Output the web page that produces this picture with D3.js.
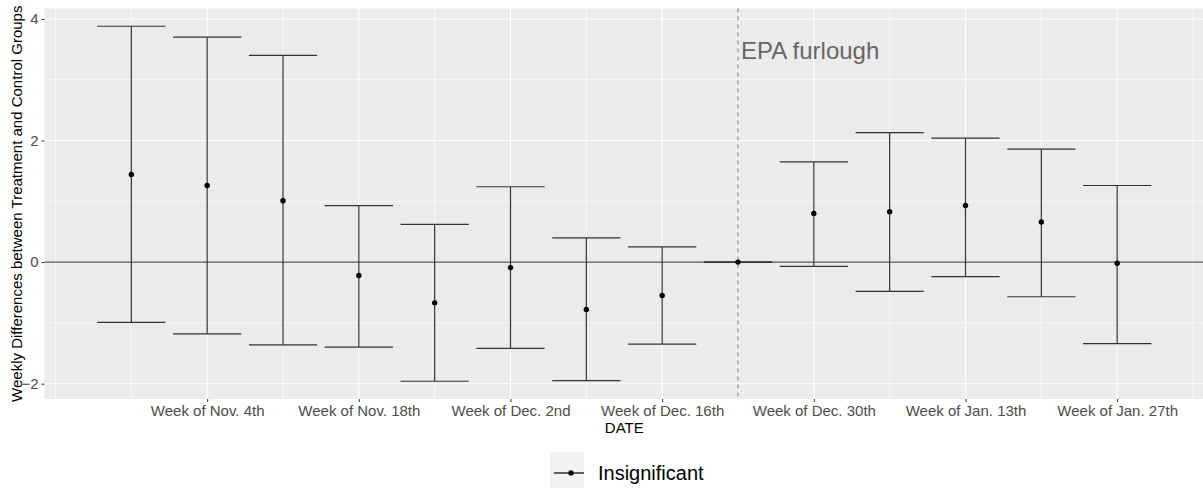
<!DOCTYPE html>
<html>
<head>
<meta charset="utf-8">
<script src="https://cdn.jsdelivr.net/npm/d3@7"></script>
<style>
  body { margin: 0; background: #fff; }
  text { font-family: "Liberation Sans", Arial, sans-serif; }
</style>
</head>
<body>
<div id="chart"></div>
<script>
// weekly estimates (week start dates)
var weeks = ["2018-10-28", "2018-11-04", "2018-11-11", "2018-11-18", "2018-11-25",
  "2018-12-02", "2018-12-09", "2018-12-16", "2018-12-23", "2018-12-30",
  "2019-01-06", "2019-01-13", "2019-01-20", "2019-01-27"];
var estimates = [1.44, 1.26, 1.01, -0.22, -0.67, -0.09, -0.78, -0.55, 0, 0.80, 0.83, 0.93, 0.66, -0.02];
var upper = [3.88, 3.70, 3.40, 0.93, 0.62, 1.24, 0.40, 0.25, 0, 1.65, 2.13, 2.04, 1.86, 1.26];
var lower = [-0.99, -1.18, -1.36, -1.40, -1.96, -1.42, -1.95, -1.35, 0, -0.07, -0.48, -0.24, -0.57, -1.34];

var tickDates = ["2018-11-04", "2018-11-18", "2018-12-02", "2018-12-16", "2018-12-30", "2019-01-13", "2019-01-27"];
var tickLabels = ["Week of Nov. 4th", "Week of Nov. 18th", "Week of Dec. 2nd", "Week of Dec. 16th",
  "Week of Dec. 30th", "Week of Jan. 13th", "Week of Jan. 27th"];
var minorDates = ["2018-10-21", "2018-10-28", "2018-11-11", "2018-11-25", "2018-12-09", "2018-12-23",
  "2019-01-06", "2019-01-20", "2019-02-03"];
var yTicks = [-2, 0, 2, 4];
var yMinor = [-1, 1, 3];
var furloughDate = "2018-12-23";

var parse = d3.timeParse("%Y-%m-%d");
var data = weeks.map(function(w, i) {
  return { date: parse(w), est: estimates[i], lo: lower[i], hi: upper[i] };
});

var svgWidth = 1203;
var svgHeight = 492;
var panel = { left: 44.5, right: 1204, top: 8.5, bottom: 399 };

var svg = d3.select("#chart").append("svg")
  .attr("width", svgWidth)
  .attr("height", svgHeight);

var DAY = 86400000;
var halfW = 0.45 * 7 * DAY;
var x0 = d3.min(data, d => d.date).getTime() - halfW;
var x1 = d3.max(data, d => d.date).getTime() + halfW;
var padX = (x1 - x0) * 0.05;
var xScale = d3.scaleTime()
  .domain([new Date(x0 - padX), new Date(x1 + padX)])
  .range([panel.left, panel.right]);

var yMin = d3.min(lower), yMax = d3.max(upper);
var padY = (yMax - yMin) * 0.05;
var yScale = d3.scaleLinear()
  .domain([yMin - padY, yMax + padY])
  .range([panel.bottom, panel.top]);

// panel background
svg.append("rect")
  .attr("x", panel.left).attr("y", panel.top)
  .attr("width", panel.right - panel.left)
  .attr("height", panel.bottom - panel.top)
  .attr("fill", "#ebebeb");

// grid
var grid = svg.append("g");
grid.selectAll(".ymin").data(yMinor).enter().append("line")
  .attr("x1", panel.left).attr("x2", panel.right)
  .attr("y1", d => yScale(d)).attr("y2", d => yScale(d))
  .attr("stroke", "#fff").attr("stroke-width", 0.6);
grid.selectAll(".xmin").data(minorDates).enter().append("line")
  .attr("x1", d => xScale(parse(d))).attr("x2", d => xScale(parse(d)))
  .attr("y1", panel.top).attr("y2", panel.bottom)
  .attr("stroke", "#fff").attr("stroke-width", 0.6);
grid.selectAll(".ymaj").data(yTicks).enter().append("line")
  .attr("x1", panel.left).attr("x2", panel.right)
  .attr("y1", d => yScale(d)).attr("y2", d => yScale(d))
  .attr("stroke", "#fff").attr("stroke-width", 1.1);
grid.selectAll(".xmaj").data(tickDates).enter().append("line")
  .attr("x1", d => xScale(parse(d))).attr("x2", d => xScale(parse(d)))
  .attr("y1", panel.top).attr("y2", panel.bottom)
  .attr("stroke", "#fff").attr("stroke-width", 1.1);

// zero reference line
svg.append("line")
  .attr("x1", panel.left).attr("x2", panel.right)
  .attr("y1", yScale(0)).attr("y2", yScale(0))
  .attr("stroke", "#555").attr("stroke-width", 1.1);

// furlough line
svg.append("line")
  .attr("x1", xScale(parse(furloughDate))).attr("x2", xScale(parse(furloughDate)))
  .attr("y1", panel.top).attr("y2", panel.bottom)
  .attr("stroke", "#888").attr("stroke-width", 1.1)
  .attr("stroke-dasharray", "4,4");

svg.append("text")
  .attr("x", xScale(parse(furloughDate)) + 3)
  .attr("y", 59)
  .attr("font-size", 24)
  .attr("fill", "#666")
  .text("EPA furlough");

// error bars
var bars = svg.append("g");
data.forEach(function(d) {
  var cx = xScale(d.date);
  var hw = xScale(new Date(d.date.getTime() + halfW)) - cx;
  var g = bars.append("g").attr("stroke", "#333").attr("stroke-width", 1.2);
  g.append("line").attr("x1", cx).attr("x2", cx).attr("y1", yScale(d.hi)).attr("y2", yScale(d.lo));
  g.append("line").attr("x1", cx - hw).attr("x2", cx + hw).attr("y1", yScale(d.hi)).attr("y2", yScale(d.hi));
  g.append("line").attr("x1", cx - hw).attr("x2", cx + hw).attr("y1", yScale(d.lo)).attr("y2", yScale(d.lo));
});

svg.append("g").selectAll("circle").data(data).enter().append("circle")
  .attr("cx", d => xScale(d.date))
  .attr("cy", d => yScale(d.est))
  .attr("r", 2.7)
  .attr("fill", "#000");

// axes
var bottomAxis = d3.axisBottom(xScale)
  .tickValues(tickDates.map(parse))
  .tickFormat((d, i) => tickLabels[i])
  .tickSize(3).tickPadding(3);
var xAxis = svg.append("g")
  .attr("transform", `translate(0, ${panel.bottom})`)
  .call(bottomAxis);
xAxis.select(".domain").remove();
xAxis.selectAll("line").attr("stroke", "#333");
xAxis.selectAll("text").attr("font-size", 15).attr("fill", "#4d4d4d")
  .attr("font-family", "Liberation Sans, Arial, sans-serif");

var leftAxis = d3.axisLeft(yScale)
  .tickValues(yTicks)
  .tickFormat(d3.format("d"))
  .tickSize(3).tickPadding(3);
var yAxis = svg.append("g")
  .attr("transform", `translate(${panel.left}, 0)`)
  .call(leftAxis);
yAxis.select(".domain").remove();
yAxis.selectAll("line").attr("stroke", "#333");
yAxis.selectAll("text").attr("font-size", 15).attr("fill", "#4d4d4d")
  .attr("font-family", "Liberation Sans, Arial, sans-serif");

// axis titles
svg.append("text")
  .attr("x", (panel.left + panel.right) / 2)
  .attr("y", 433)
  .attr("text-anchor", "middle")
  .attr("font-size", 15)
  .attr("fill", "#000")
  .text("DATE");

svg.append("text")
  .attr("transform", `translate(22, ${(panel.top + panel.bottom) / 2}) rotate(-90)`)
  .attr("text-anchor", "middle")
  .attr("font-size", 15)
  .attr("fill", "#000")
  .text("Weekly Differences between Treatment and Control Groups");

// legend
var legend = svg.append("g").attr("transform", "translate(550, 452)");
legend.append("rect").attr("width", 34).attr("height", 36).attr("fill", "#f2f2f2");
legend.append("line").attr("x1", 4).attr("x2", 38 - 4).attr("y1", 21).attr("y2", 21)
  .attr("stroke", "#000").attr("stroke-width", 1.2);
legend.append("circle").attr("cx", 21).attr("cy", 21).attr("r", 2.7).attr("fill", "#000");
legend.append("text").attr("x", 48).attr("y", 28).attr("font-size", 20).attr("fill", "#000")
  .text("Insignificant");
</script>
</body>
</html>
